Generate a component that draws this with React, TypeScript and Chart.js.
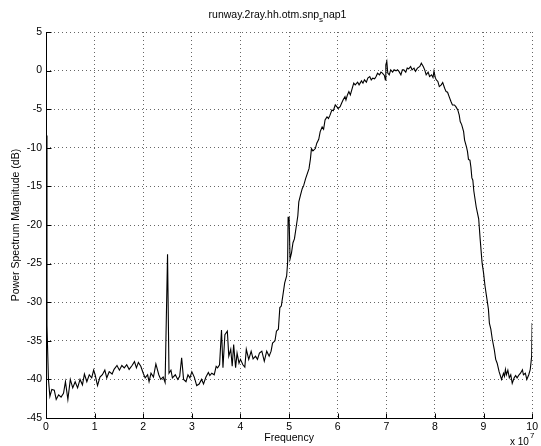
import React, { useEffect, useRef } from "react";
import { Chart, registerables } from "chart.js";

Chart.register(...registerables);

const titleMain = "runway.2ray.hh.otm.snp";
const titleSub = "s";
const titleTail = "nap1";
const xLabel = "Frequency";
const yLabel = "Power Spectrum Magnitude (dB)";
const xExponent = "7";

const xTicks = [0, 1, 2, 3, 4, 5, 6, 7, 8, 9, 10];
const yTicks = [-45, -40, -35, -30, -25, -20, -15, -10, -5, 0, 5];

// frequency in units of 10^7
const freq = [
  0, 0.02, 0.05, 0.08, 0.12, 0.17, 0.21, 0.26, 0.31, 0.36, 0.4, 0.45, 0.5, 0.55, 0.6, 0.65, 0.7, 0.75, 0.79, 0.84,
  0.89, 0.94, 0.98, 1.01, 1.06, 1.11, 1.16, 1.21, 1.25, 1.3, 1.36, 1.4, 1.46, 1.51, 1.56, 1.61, 1.66, 1.71, 1.77, 1.82,
  1.86, 1.9, 1.95, 2.0, 2.04, 2.09, 2.12, 2.16, 2.21, 2.26, 2.32, 2.36, 2.41, 2.45, 2.5, 2.53, 2.57, 2.6, 2.66, 2.71,
  2.75, 2.79, 2.83, 2.88, 2.92, 2.96, 3.0, 3.05, 3.1, 3.15, 3.2, 3.24, 3.29, 3.34, 3.37, 3.41, 3.46, 3.5, 3.53, 3.57,
  3.61, 3.64, 3.68, 3.73, 3.76, 3.8, 3.83, 3.86, 3.9, 3.93, 3.97, 4.0, 4.05, 4.09, 4.12, 4.17, 4.22, 4.26, 4.31, 4.35,
  4.39, 4.44, 4.49, 4.54, 4.59, 4.63, 4.66, 4.71, 4.74, 4.78, 4.81, 4.84, 4.88, 4.91, 4.95, 4.97, 4.98, 5.0, 5.02, 5.05,
  5.08, 5.11, 5.15, 5.18, 5.2, 5.24, 5.27, 5.3, 5.34, 5.41, 5.44, 5.46, 5.49, 5.54, 5.57, 5.61, 5.64, 5.68, 5.71, 5.74,
  5.78, 5.81, 5.84, 5.88, 5.91, 5.95, 5.98, 6.01, 6.05, 6.08, 6.11, 6.15, 6.17, 6.2, 6.23, 6.26, 6.3, 6.33, 6.36, 6.41,
  6.44, 6.49, 6.52, 6.55, 6.59, 6.62, 6.66, 6.69, 6.72, 6.76, 6.79, 6.82, 6.86, 6.89, 6.92, 6.96, 6.98, 6.99, 7.01, 7.03,
  7.06, 7.09, 7.13, 7.16, 7.2, 7.23, 7.26, 7.3, 7.33, 7.36, 7.4, 7.43, 7.46, 7.5, 7.53, 7.57, 7.6, 7.64, 7.69, 7.72,
  7.76, 7.79, 7.82, 7.86, 7.89, 7.93, 7.96, 7.98, 8.01, 8.03, 8.06, 8.09, 8.13, 8.16, 8.2, 8.23, 8.26, 8.3, 8.33, 8.36,
  8.4, 8.43, 8.47, 8.5, 8.52, 8.55, 8.59, 8.61, 8.65, 8.67, 8.69, 8.72, 8.74, 8.76, 8.78, 8.8, 8.85, 8.9, 8.93, 8.97,
  9.0, 9.03, 9.07, 9.1, 9.12, 9.15, 9.18, 9.22, 9.25, 9.28, 9.32, 9.37, 9.41, 9.43, 9.45, 9.47, 9.5, 9.53, 9.56, 9.59,
  9.63, 9.66, 9.69, 9.73, 9.76, 9.8, 9.82, 9.86, 9.89, 9.93, 9.96, 9.99, 10.0,
];

// power spectrum magnitude in dB
const power = [
  -8.4, -33, -40, -42.2, -41.3, -41.4, -42.6, -42.0, -42.3, -41.8, -40.3, -42.6, -40.0, -41.1, -40.3, -41.1, -40.0, -40.7, -39.3, -40.3,
  -39.4, -39.8, -38.8, -39.4, -40.8, -39.7, -39.4, -38.8, -39.8, -39.0, -39.3, -38.7, -38.2, -38.8, -38.2, -38.5, -38.1, -38.7, -38.2, -37.7,
  -38.5, -37.8, -38.3, -39.2, -39.8, -39.4, -40.3, -39.2, -39.7, -38.0, -39.4, -40.0, -39.7, -40.4, -23.8, -39.2, -38.8, -39.8, -39.4, -40.0,
  -39.6, -37.2, -40.0, -40.3, -39.4, -39.8, -39.0, -39.7, -40.8, -40.6, -40.0, -40.6, -39.7, -39.1, -39.5, -39.2, -39.4, -38.3, -38.5, -38.1,
  -33.6, -38.5, -34.2, -33.75, -37.0, -36.1, -38.3, -35.5, -38.5, -36.6, -37.9, -37.4, -38.1, -38.4, -36.1, -37.4, -36.35, -37.35, -37.0, -37.4,
  -36.6, -36.35, -37.65, -36.35, -37.0, -36.35, -35.3, -35.0, -33.75, -33.5, -30.7, -30.5, -28.8, -27.5, -26.6, -24.9, -19.0, -19.0, -24.4, -23.6,
  -22.3, -21.8, -20.1, -18.8, -17.0, -16.0, -15.3, -14.9, -14.0, -12.7, -11.4, -10.1, -10.4, -10.1, -9.4, -8.9, -7.9, -7.3, -7.6, -6.4,
  -6.0, -6.2, -5.8, -5.1, -5.2, -4.45, -4.67, -4.9, -4.67, -4.24, -3.8, -3.37, -3.8, -3.15, -2.72, -3.15, -2.28, -1.63, -1.85, -1.5,
  -1.85, -1.33, -1.63, -1.2, -1.5, -0.98, -0.77, -1.2, -0.98, -1.07, -0.77, -0.33, -0.55, -0.2, -0.33, -0.63, -1.2, 0.75, 1.19, -0.33,
  -0.55, 0.1, -0.2, 0.1, -0.03, 0.1, -0.1, -0.55, 0.1, 0.1, -0.2, 0.32, 0.23, 0.54, 0.1, 0.32, -0.1, 0.32, 0.54, 0.97,
  0.54, 0.1, -0.55, -0.2, -0.77, -0.55, -0.9, -0.1, -0.98, -1.2, -1.4, -2.07, -1.85, -1.55, -2.28, -2.72, -2.8, -3.5, -4.0, -4.45,
  -4.45, -4.67, -5.1, -5.76, -6.6, -7.0, -7.9, -9.0, -9.9, -10.5, -11.5, -11.6, -12.5, -13.9, -14.2, -15.6, -17.7, -19.2, -21.8, -24.9,
  -26.2, -27.9, -29.6, -30.9, -32.7, -33.5, -34.8, -36.1, -37.4, -37.9, -39.0, -40.0, -39.2, -39.6, -38.7, -39.4, -38.8, -39.8, -39.4, -40.5,
  -39.8, -39.5, -39.8, -39.4, -39.2, -38.75, -39.4, -39.2, -40.0, -39.4, -38.75, -37.0, -32.7,
];

const FONT = '"Liberation Sans", Arial, Helvetica, sans-serif';

export default function App() {
  const canvasRef = useRef<HTMLCanvasElement>(null);

  useEffect(() => {
    const canvas = canvasRef.current;
    if (!canvas) return;

    const matlabPlugin = {
      id: "matlabDecor",
      afterDraw(chart: any) {
        const { ctx, chartArea: a, scales } = chart;
        const xs = scales.x;
        const ys = scales.y;
        ctx.save();
        ctx.strokeStyle = "#000";
        ctx.lineWidth = 1;
        ctx.setLineDash([]);
        ctx.beginPath();
        const lx = Math.round(a.left) + 0.5;
        const by = Math.round(a.bottom) + 0.5;
        ctx.moveTo(lx, Math.round(a.top));
        ctx.lineTo(lx, by);
        ctx.lineTo(Math.round(a.right) + 1, by);
        for (const t of xTicks) {
          const px = Math.round(xs.getPixelForValue(t)) + 0.5;
          ctx.moveTo(px, by);
          ctx.lineTo(px, by - 5);
        }
        for (const t of yTicks) {
          const py = Math.round(ys.getPixelForValue(t)) + 0.5;
          ctx.moveTo(lx, py);
          ctx.lineTo(lx + 5, py);
        }
        ctx.stroke();

        ctx.fillStyle = "#000";
        ctx.textBaseline = "alphabetic";
        // title with subscript
        ctx.font = `10.5px ${FONT}`;
        ctx.textAlign = "left";
        const w1 = ctx.measureText(titleMain).width;
        ctx.font = `8px ${FONT}`;
        const w2 = ctx.measureText(titleSub).width;
        ctx.font = `10.5px ${FONT}`;
        const w3 = ctx.measureText(titleTail).width;
        let tx = 277.5 - (w1 + w2 + w3) / 2;
        ctx.fillText(titleMain, tx, 18);
        tx += w1;
        ctx.font = `8px ${FONT}`;
        ctx.fillText(titleSub, tx, 22);
        tx += w2;
        ctx.font = `10.5px ${FONT}`;
        ctx.fillText(titleTail, tx, 18);

        // x label
        ctx.textAlign = "center";
        ctx.fillText(xLabel, (a.left + a.right) / 2, 441);

        // exponent
        ctx.textAlign = "left";
        ctx.font = `10px ${FONT}`;
        ctx.fillText("x 10", 510, 445);
        ctx.font = `8px ${FONT}`;
        ctx.fillText(xExponent, 530, 438);

        // y label
        ctx.font = `10.5px ${FONT}`;
        ctx.translate(19, (a.top + a.bottom) / 2);
        ctx.rotate(-Math.PI / 2);
        ctx.textAlign = "center";
        ctx.fillText(yLabel, 0, 0);
        ctx.restore();
      },
    };

    const chart = new Chart(canvas, {
      type: "line",
      data: {
        datasets: [
          {
            data: freq.map((f, i) => ({ x: f, y: power[i] })),
            borderColor: "#000",
            borderWidth: 1.1,
            pointRadius: 0,
            tension: 0,
            fill: false,
          },
        ],
      },
      options: {
        responsive: false,
        animation: false,
        devicePixelRatio: 1,
        parsing: false,
        layout: { padding: { top: 32, right: 6, left: 0, bottom: 0 } },
        plugins: {
          legend: { display: false },
          title: { display: false },
          tooltip: { enabled: false },
        },
        scales: {
          x: {
            type: "linear",
            min: 0,
            max: 10,
            afterFit: (s: any) => {
              s.height = 28;
            },
            afterBuildTicks: (s: any) => {
              s.ticks = xTicks.map((v) => ({ value: v }));
            },
            ticks: {
              color: "#000",
              font: { family: FONT, size: 10.5 },
              padding: 3,
              maxRotation: 0,
              autoSkip: false,
              callback: (v: any) => String(v),
            },
            grid: {
              color: "#666",
              lineWidth: 1,
              drawTicks: false,
            },
            border: { display: false, dash: [1, 3] },
          },
          y: {
            type: "linear",
            min: -45,
            max: 5,
            afterFit: (s: any) => {
              s.width = 46;
            },
            afterBuildTicks: (s: any) => {
              s.ticks = yTicks.map((v) => ({ value: v }));
            },
            ticks: {
              color: "#000",
              font: { family: FONT, size: 10.5 },
              padding: 4,
              autoSkip: false,
              callback: (v: any) => String(v),
            },
            grid: {
              color: "#666",
              lineWidth: 1,
              drawTicks: false,
            },
            border: { display: false, dash: [1, 3] },
          },
        },
      },
      plugins: [matlabPlugin],
    });

    return () => chart.destroy();
  }, []);

  return (
    <div style={{ position: "fixed", left: 0, top: 0, width: 541, height: 446, background: "#fff" }}>
      <canvas ref={canvasRef} width={541} height={446} style={{ width: 541, height: 446, display: "block" }} />
    </div>
  );
}
